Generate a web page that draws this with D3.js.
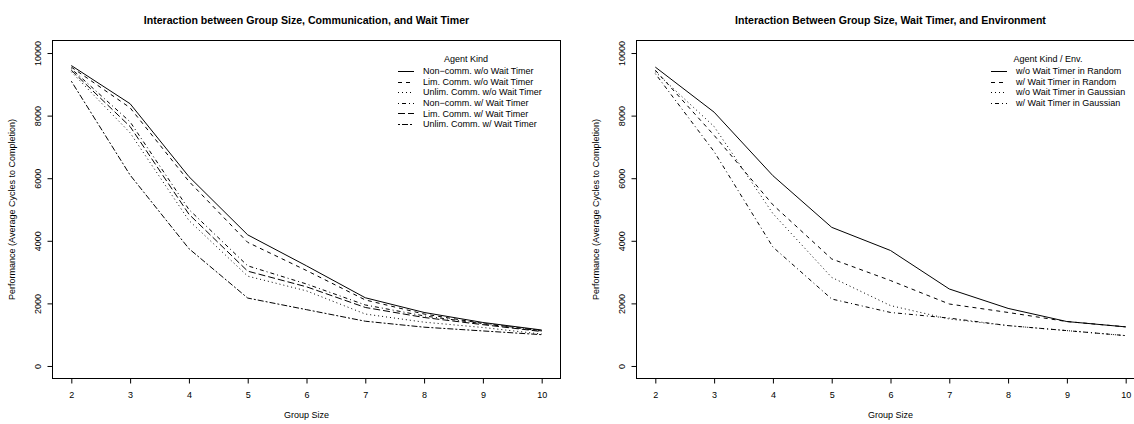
<!DOCTYPE html>
<html>
<head>
<meta charset="utf-8">
<script src="https://cdn.jsdelivr.net/npm/d3@7/dist/d3.min.js"></script>
<style>
  html, body { margin: 0; padding: 0; background: #fff; }
  svg { display: block; font-family: "Liberation Sans", Arial, Helvetica, sans-serif; }
</style>
</head>
<body>
<svg id="chart" width="1134" height="424"></svg>
<script>
// ---- data ----
const groupSizes = [2, 3, 4, 5, 6, 7, 8, 9, 10];
const yTickValues = [0, 2000, 4000, 6000, 8000, 10000];

const leftTitle = "Interaction between Group Size, Communication, and Wait Timer";
const leftLegendTitle = "Agent Kind";
const leftLabels = [
  "Non\u2212comm. w/o Wait Timer",
  "Lim. Comm. w/o Wait Timer",
  "Unlim. Comm. w/o Wait Timer",
  "Non\u2212comm. w/ Wait Timer",
  "Lim. Comm. w/ Wait Timer",
  "Unlim. Comm. w/ Wait Timer"
];
const nonCommNoTimer   = [9600, 8380, 6050, 4190, 3200, 2180, 1710, 1390, 1150];
const limCommNoTimer   = [9550, 8250, 5900, 3950, 3050, 2110, 1660, 1360, 1130];
const unlimCommNoTimer = [9400, 7450, 4650, 2870, 2400, 1660, 1400, 1230, 1020];
const nonCommTimer     = [9500, 7800, 5000, 3200, 2620, 1950, 1600, 1350, 1120];
const limCommTimer     = [9450, 7650, 4850, 3030, 2530, 1870, 1550, 1320, 1100];
const unlimCommTimer   = [9100, 6100, 3750, 2170, 1800, 1430, 1240, 1120, 1000];

const rightTitle = "Interaction Between Group Size, Wait Timer, and Environment";
const rightLegendTitle = "Agent Kind / Env.";
const rightLabels = [
  "w/o Wait Timer in Random",
  "w/ Wait Timer in Random",
  "w/o Wait Timer in Gaussian",
  "w/ Wait Timer in Gaussian"
];
const noTimerRandom    = [9550, 8110, 6080, 4430, 3690, 2460, 1840, 1420, 1250];
const timerRandom      = [9450, 7370, 5150, 3420, 2730, 1980, 1710, 1420, 1250];
const noTimerGaussian  = [9400, 7650, 4870, 2830, 1930, 1500, 1290, 1130, 970];
const timerGaussian    = [9340, 6850, 3800, 2140, 1710, 1530, 1290, 1130, 970];

const xLabel = "Group Size";
const yLabel = "Performance (Average Cycles to Completion)";

// R line types: solid, dashed, dotted, dotdash, longdash, twodash
const ltys = [null, "4,4", "1,3", "1,3,4,3", "7,3", "2,2,6,2"];

// ---- drawing ----
const svg = d3.select("#chart");
const FS = 9;

function panel(opts) {
  const { left, right, top, bottom, title, legendTitle, labels, series, legendX, legendY, legendTitleX } = opts;
  const x = d3.scaleLinear().domain([1.68, 10.32]).range([left, right]);
  const y = d3.scaleLinear().domain([-400, 10400]).range([bottom, top]);
  const g = svg.append("g");

  // title
  g.append("text")
    .attr("x", (left + right) / 2).attr("y", 24)
    .attr("text-anchor", "middle")
    .attr("font-weight", "bold")
    .attr("font-size", 10.6)
    .text(title);

  // box
  g.append("rect")
    .attr("x", left).attr("y", top)
    .attr("width", right - left).attr("height", bottom - top)
    .attr("fill", "none").attr("stroke", "#000").attr("stroke-width", 1);

  // x axis
  const xa = g.append("g").attr("transform", `translate(0,${bottom})`)
    .call(d3.axisBottom(x).tickValues(groupSizes).tickSize(5).tickPadding(8).tickFormat(d3.format("d")));
  xa.select(".domain").attr("d", `M${x(2)},0H${x(10)}`);
  xa.selectAll("text").attr("font-size", FS).attr("font-family", null).attr("fill", "#000");

  // y axis
  const ya = g.append("g").attr("transform", `translate(${left},0)`)
    .call(d3.axisLeft(y).tickValues(yTickValues).tickSize(5).tickFormat(d3.format("d")));
  ya.select(".domain").attr("d", `M0,${y(0)}V${y(10000)}`);
  ya.selectAll("text")
    .attr("font-size", FS).attr("font-family", null).attr("fill", "#000")
    .attr("transform", "rotate(-90)")
    .attr("x", 0).attr("y", -15).attr("dy", "0.35em")
    .attr("text-anchor", "middle");

  // axis labels
  g.append("text")
    .attr("x", (left + right) / 2).attr("y", 418)
    .attr("text-anchor", "middle").attr("font-size", FS)
    .text(xLabel);
  g.append("text")
    .attr("transform", `translate(${left - 38},${(top + bottom) / 2}) rotate(-90)`)
    .attr("text-anchor", "middle").attr("font-size", FS)
    .text(yLabel);

  // lines
  const line = d3.line().x((d, i) => x(groupSizes[i])).y(d => y(d));
  const clip = "clip-" + Math.round(left);
  g.append("clipPath").attr("id", clip).append("rect")
    .attr("x", left).attr("y", top).attr("width", right - left).attr("height", bottom - top);
  series.forEach((s, i) => {
    g.append("path")
      .attr("clip-path", `url(#${clip})`)
      .attr("d", line(s))
      .attr("fill", "none").attr("stroke", "#000").attr("stroke-width", 1)
      .attr("stroke-dasharray", ltys[i]);
  });

  // legend
  const rowH = 10.6;
  g.append("text")
    .attr("x", legendTitleX).attr("y", legendY - 12).attr("dy", "0.35em")
    .attr("text-anchor", "middle").attr("font-size", FS)
    .text(legendTitle);
  labels.forEach((lab, i) => {
    const yy = legendY + i * rowH;
    g.append("line")
      .attr("x1", legendX).attr("x2", legendX + 16)
      .attr("y1", Math.round(yy) + 0.5).attr("y2", Math.round(yy) + 0.5)
      .attr("stroke", "#000").attr("stroke-width", 1)
      .attr("stroke-dasharray", ltys[i]);
    g.append("text")
      .attr("x", legendX + 25).attr("y", yy).attr("dy", "0.35em")
      .attr("font-size", FS)
      .text(lab);
  });
}

panel({
  left: 52.5, right: 560.5, top: 40.5, bottom: 378.5,
  title: leftTitle, legendTitle: leftLegendTitle, labels: leftLabels,
  series: [nonCommNoTimer, limCommNoTimer, unlimCommNoTimer, nonCommTimer, limCommTimer, unlimCommTimer],
  legendX: 398, legendY: 71, legendTitleX: 466
});

panel({
  left: 636.5, right: 1144.5, top: 40.5, bottom: 378.5,
  title: rightTitle, legendTitle: rightLegendTitle, labels: rightLabels,
  series: [noTimerRandom, timerRandom, noTimerGaussian, timerGaussian],
  legendX: 991, legendY: 71, legendTitleX: 1048
});
</script>
</body>
</html>
